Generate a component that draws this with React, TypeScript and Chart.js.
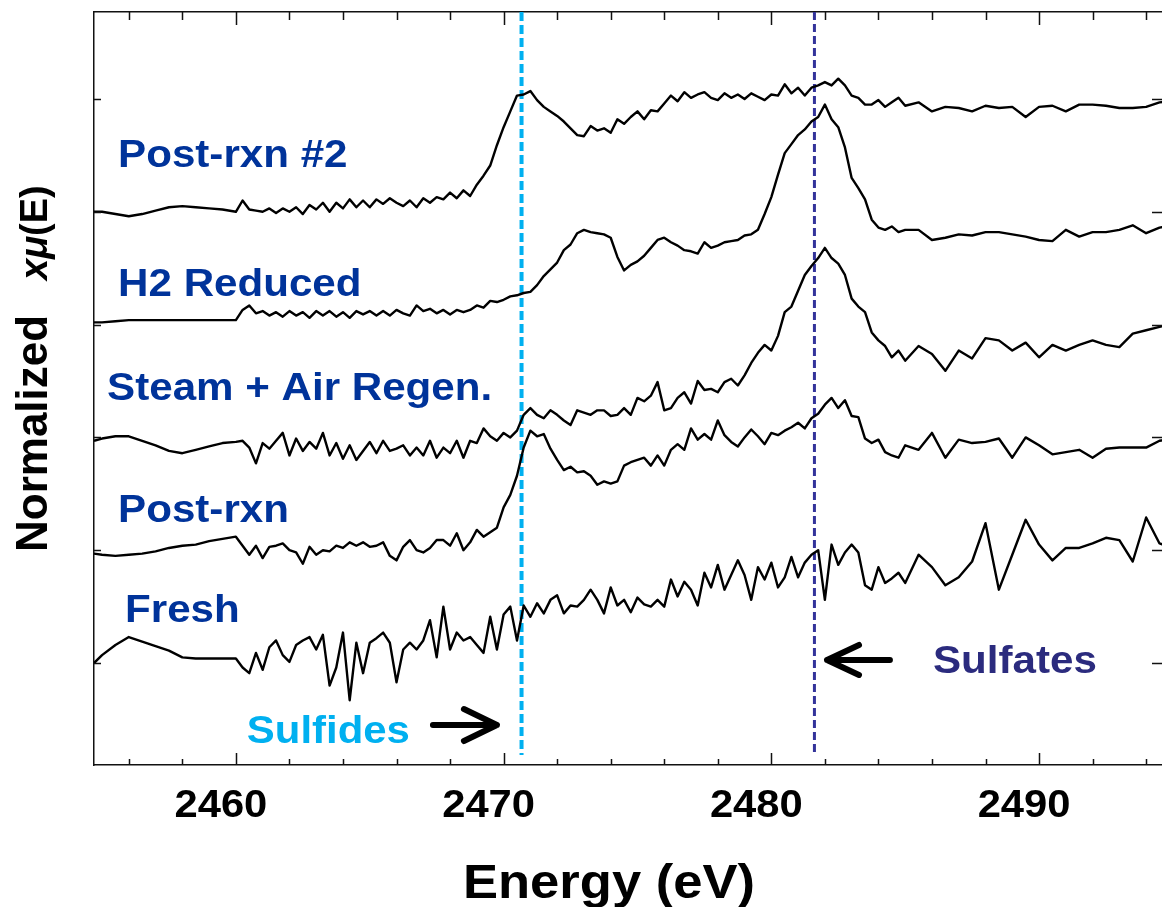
import React, { useEffect, useRef } from "react";
import { Chart, registerables } from "chart.js";

Chart.register(...registerables);

// Photon energy grid (eV)
const energy = [
  2454.7, 2455, 2455.5, 2456, 2456.5, 2457, 2457.5, 2458, 2458.5, 2459, 2459.5, 2460,
  2460.25, 2460.5, 2460.75, 2461, 2461.25, 2461.5, 2461.75, 2462, 2462.25, 2462.5,
  2462.75, 2463, 2463.25, 2463.5, 2463.75, 2464, 2464.25, 2464.5, 2464.75, 2465,
  2465.25, 2465.5, 2465.75, 2466, 2466.25, 2466.5, 2466.75, 2467, 2467.25, 2467.5,
  2467.75, 2468, 2468.25, 2468.5, 2468.75, 2469, 2469.25, 2469.5, 2469.75, 2470,
  2470.25, 2470.5, 2470.75, 2471, 2471.25, 2471.5, 2471.75, 2472, 2472.25, 2472.5,
  2472.75, 2473, 2473.25, 2473.5, 2473.75, 2474, 2474.25, 2474.5, 2474.75, 2475,
  2475.25, 2475.5, 2475.75, 2476, 2476.25, 2476.5, 2476.75, 2477, 2477.25, 2477.5,
  2477.75, 2478, 2478.25, 2478.5, 2478.75, 2479, 2479.25, 2479.5, 2479.75, 2480,
  2480.25, 2480.5, 2480.75, 2481, 2481.25, 2481.5, 2481.75, 2482, 2482.25, 2482.5,
  2482.75, 2483, 2483.25, 2483.5, 2483.75, 2484, 2484.25, 2484.5, 2484.75, 2485,
  2485.5, 2486, 2486.5, 2487, 2487.5, 2488, 2488.5, 2489, 2489.5, 2490,
  2490.5, 2491, 2491.5, 2492, 2492.5, 2493, 2493.5, 2494, 2494.5, 2495,
];

// Normalized xmu(E), before vertical stacking offset
const fresh = [
  0, 0.07, 0.16, 0.23, 0.19, 0.15, 0.11, 0.05, 0.04, 0.04, 0.04, 0.04,
  -0.04, -0.09, 0.09, -0.06, 0.14, 0.2, 0.07, 0.01, 0.16, 0.2,
  0.23, 0.12, 0.25, -0.2, -0.04, 0.27, -0.33, 0.18, -0.09, 0.18,
  0.22, 0.27, 0.18, -0.17, 0.12, 0.18, 0.12, 0.2, 0.38, 0.05,
  0.5, 0.12, 0.27, 0.2, 0.23, 0.16, 0.09, 0.41, 0.12, 0.43,
  0.5, 0.2, 0.51, 0.41, 0.53, 0.44, 0.56, 0.6, 0.44, 0.51,
  0.5, 0.56, 0.65, 0.56, 0.44, 0.67, 0.51, 0.56, 0.45, 0.58,
  0.52, 0.5, 0.56, 0.5, 0.74, 0.59, 0.72, 0.65, 0.51, 0.8,
  0.67, 0.87, 0.65, 0.78, 0.91, 0.78, 0.56, 0.85, 0.74, 0.89,
  0.67, 0.76, 0.94, 0.76, 0.89, 0.96, 1.0, 0.56, 1.05, 0.87,
  0.98, 1.05, 0.98, 0.69, 0.65, 0.85, 0.71, 0.75, 0.8, 0.71,
  0.96, 0.85, 0.69, 0.76, 0.9, 1.24, 0.65, 0.96, 1.27, 1.05,
  0.91, 1.02, 1.02, 1.06, 1.11, 1.09, 0.9, 1.29, 1.06, 1.02,
];

const postRxn = [
  -0.03, -0.04, -0.05, -0.04, -0.03, -0.01, 0.02, 0.04, 0.05, 0.08, 0.1, 0.12,
  0.04, -0.04, 0.04, -0.07, 0.03, 0.04, 0.06, 0, -0.02, -0.12,
  0.03, -0.04, 0, -0.01, 0.04, 0.02, 0.07, 0.04, 0.07, 0.03,
  0.04, 0.07, -0.05, -0.09, 0.03, 0.09, 0, -0.02, 0.02, 0.09,
  0.09, 0.04, 0.15, 0, 0.07, 0.18, 0.12, 0.16, 0.2, 0.38,
  0.49, 0.66, 0.91, 1.06, 1.01, 1.03, 0.9, 0.8, 0.71, 0.74,
  0.69, 0.7, 0.66, 0.58, 0.61, 0.59, 0.61, 0.75, 0.78, 0.8,
  0.82, 0.75, 0.84, 0.75, 0.89, 0.94, 0.89, 1.08, 0.98, 1.03,
  0.98, 1.15, 1.02, 0.96, 0.92, 1.0, 1.07, 1.01, 0.94, 1.04,
  1.02, 1.06, 1.09, 1.13, 1.08, 1.17, 1.21, 1.29, 1.35, 1.26,
  1.33, 1.19, 1.18, 0.99, 0.95, 0.98, 0.87, 0.84, 0.82, 0.93,
  0.89, 1.04, 0.82, 0.98, 0.95, 0.96, 0.99, 0.82, 1.0, 0.93,
  0.85, 0.87, 0.89, 0.82, 0.9, 0.91, 0.91, 0.91, 0.97, 0.99,
];

const steamAirRegen = [
  -0.03, -0.01, 0.01, 0.01, -0.03, -0.07, -0.12, -0.14, -0.11, -0.08, -0.05, -0.04,
  -0.03, -0.09, -0.23, -0.05, -0.1, -0.03, 0.04, -0.16, -0.01, -0.12,
  -0.04, -0.1, 0.04, -0.16, -0.05, -0.19, -0.07, -0.2, -0.12, -0.04,
  -0.14, -0.03, -0.12, -0.1, -0.07, -0.16, -0.09, -0.16, -0.03, -0.18,
  -0.09, -0.14, -0.03, -0.18, -0.03, -0.05, 0.08, 0.01, -0.03, 0.04,
  0, 0.06, 0.2, 0.26, 0.2, 0.17, 0.24, 0.2, 0.15, 0.11,
  0.24, 0.22, 0.2, 0.24, 0.24, 0.19, 0.2, 0.26, 0.2, 0.35,
  0.32, 0.37, 0.49, 0.24, 0.26, 0.35, 0.4, 0.3, 0.5, 0.42,
  0.43, 0.4, 0.49, 0.52, 0.46, 0.55, 0.66, 0.75, 0.82, 0.77,
  0.9, 1.11, 1.16, 1.3, 1.44, 1.52, 1.59, 1.68, 1.59, 1.54,
  1.44, 1.23, 1.16, 1.11, 0.93, 0.86, 0.81, 0.71, 0.77, 0.68,
  0.81, 0.74, 0.59, 0.77, 0.7, 0.88, 0.86, 0.77, 0.84, 0.71,
  0.82, 0.77, 0.82, 0.86, 0.82, 0.8, 0.92, 0.95, 0.98, 1.01,
];

const h2Reduced = [
  0.02, 0.02, 0.03, 0.04, 0.04, 0.04, 0.04, 0.04, 0.04, 0.04, 0.04, 0.04,
  0.13, 0.17, 0.1, 0.12, 0.08, 0.11, 0.07, 0.12, 0.08, 0.11,
  0.06, 0.12, 0.08, 0.12, 0.07, 0.11, 0.06, 0.12, 0.09, 0.12,
  0.08, 0.12, 0.08, 0.13, 0.1, 0.08, 0.17, 0.12, 0.14, 0.1,
  0.13, 0.09, 0.13, 0.11, 0.13, 0.17, 0.15, 0.21, 0.2, 0.22,
  0.25, 0.26, 0.28, 0.29, 0.35, 0.43, 0.49, 0.55, 0.66, 0.71,
  0.81, 0.84, 0.82, 0.81, 0.8, 0.77, 0.6, 0.48, 0.53, 0.56,
  0.61, 0.68, 0.75, 0.77, 0.73, 0.7, 0.66, 0.65, 0.63, 0.73,
  0.68, 0.7, 0.73, 0.74, 0.75, 0.79, 0.8, 0.84, 0.98, 1.13,
  1.33, 1.52, 1.6, 1.68, 1.73, 1.8, 1.84, 1.95, 1.82, 1.75,
  1.57, 1.3, 1.21, 1.11, 0.93, 0.86, 0.84, 0.87, 0.82, 0.84,
  0.84, 0.75, 0.77, 0.8, 0.79, 0.82, 0.82, 0.8, 0.78, 0.75,
  0.74, 0.84, 0.78, 0.82, 0.82, 0.84, 0.88, 0.81, 0.86, 0.88,
];

const postRxn2 = [
  0, 0, -0.02, -0.04, -0.02, 0.01, 0.04, 0.05, 0.04, 0.03, 0.02, 0,
  0.1, 0.02, 0.01, 0, 0.03, -0.01, 0.03, 0, 0.04, -0.02,
  0.06, 0.02, 0.08, 0, 0.08, 0.03, 0.11, 0.04, 0.1, 0.04,
  0.11, 0.07, 0.12, 0.08, 0.05, 0.1, 0.04, 0.12, 0.08, 0.13,
  0.11, 0.17, 0.12, 0.19, 0.14, 0.24, 0.32, 0.41, 0.59, 0.75,
  0.89, 1.03, 1.04, 1.07, 0.99, 0.93, 0.89, 0.85, 0.8, 0.74,
  0.68, 0.67, 0.76, 0.72, 0.74, 0.7, 0.82, 0.78, 0.84, 0.89,
  0.82, 0.9, 0.89, 0.96, 1.03, 0.98, 1.06, 1.01, 1.04, 1.06,
  1.01, 0.99, 1.05, 1.01, 1.04, 1.0, 1.05, 1.02, 0.99, 1.04,
  1.03, 1.13, 1.05, 1.1, 1.03, 1.1, 1.12, 1.15, 1.12, 1.18,
  1.12, 1.03, 1.01, 0.95, 0.95, 0.99, 0.93, 0.97, 1.01, 0.94,
  0.97, 0.89, 0.93, 0.92, 0.89, 0.94, 0.92, 0.93, 0.84, 0.93,
  0.94, 0.89, 0.95, 0.95, 0.94, 0.92, 0.92, 0.93, 0.97, 0.98,
];

const seriesNames = ["Fresh", "Post-rxn", "Steam + Air Regen.", "H2 Reduced", "Post-rxn #2"];
const seriesValues = [fresh, postRxn, steamAirRegen, h2Reduced, postRxn2];
const seriesOffsets = [0, 1, 2, 3, 4];

const xTickValues = [2456, 2458, 2460, 2462, 2464, 2466, 2468, 2470, 2472, 2474, 2476, 2478, 2480, 2482, 2484, 2486, 2488, 2490, 2492, 2494];
const xTickLabels = [2460, 2470, 2480, 2490];
const yTickValues = [0, 1, 2, 3, 4, 5];

const sulfideEnergy = 2470.67;
const sulfateEnergy = 2481.61;

const X_MIN = 2454.7;
const X_MAX = 2494.63;
const Y_MIN = -0.904;
const Y_MAX = 5.771;

// Annotation anchors in data coordinates (energy, stacked value)
const seriesLabelAnchors = [
  [2455.86, 0.363],
  [2455.6, 1.25],
  [2455.19, 2.332],
  [2455.6, 3.254],
  [2455.6, 4.397],
];

const FONT = '"Liberation Sans", Arial, sans-serif';

function drawText(ctx: CanvasRenderingContext2D, text: string, x: number, y: number, size: number, color: string, sx: number, align: "left" | "center", style = "bold") {
  ctx.save();
  ctx.font = `${style} ${size}px ${FONT}`;
  ctx.fillStyle = color;
  ctx.textBaseline = "alphabetic";
  ctx.textAlign = "left";
  ctx.translate(x, y);
  ctx.scale(sx, 1);
  const w = ctx.measureText(text).width;
  ctx.fillText(text, align === "center" ? -w / 2 : 0, 0);
  ctx.restore();
}

function drawArrow(ctx: CanvasRenderingContext2D, x0: number, x1: number, y: number, head: number, half: number) {
  const dir = Math.sign(x1 - x0);
  ctx.save();
  ctx.strokeStyle = "#000";
  ctx.lineWidth = 6;
  ctx.lineCap = "round";
  ctx.lineJoin = "round";
  ctx.beginPath();
  ctx.moveTo(x0, y);
  ctx.lineTo(x1, y);
  ctx.moveTo(x1 - dir * head, y - half);
  ctx.lineTo(x1, y);
  ctx.lineTo(x1 - dir * head, y + half);
  ctx.stroke();
  ctx.restore();
}

const decorPlugin = {
  id: "decor",
  afterDraw(chart: any) {
    const ctx: CanvasRenderingContext2D = chart.ctx;
    const { left, right, top, bottom } = chart.chartArea;
    const xs = chart.scales.x;
    const ys = chart.scales.y;

    // inward tick marks
    ctx.save();
    ctx.strokeStyle = "#111";
    ctx.lineWidth = 1.5;
    ctx.beginPath();
    for (const v of xTickValues) {
      const px = Math.round(xs.getPixelForValue(v)) + 0.5;
      const major = v % 10 === 0;
      ctx.moveTo(px, bottom);
      ctx.lineTo(px, bottom - (major ? 12 : 6));
      ctx.moveTo(px, top);
      ctx.lineTo(px, top + (major ? 13 : 8));
    }
    for (const v of yTickValues) {
      const py = Math.round(ys.getPixelForValue(v)) + 0.5;
      ctx.moveTo(left, py);
      ctx.lineTo(left + 7, py);
      ctx.moveTo(right, py);
      ctx.lineTo(right - 11, py);
    }
    ctx.stroke();
    ctx.restore();

    // tick labels
    for (const v of xTickLabels) {
      drawText(ctx, String(v), xs.getPixelForValue(v) - 15, bottom + 52, 39, "#000", 1.07, "center");
    }

    // axis titles
    drawText(ctx, "Energy (eV)", 609, 898, 48, "#000", 1.095, "center");
    ctx.save();
    ctx.translate(47, 552);
    ctx.rotate(-Math.PI / 2);
    ctx.fillStyle = "#000";
    ctx.textBaseline = "alphabetic";
    ctx.font = `bold 44px ${FONT}`;
    ctx.fillText("Normalized", 0, 0);
    ctx.font = `italic bold 38px ${FONT}`;
    ctx.fillText("x\u03BC", 272, 0);
    const wx = ctx.measureText("x\u03BC").width;
    ctx.font = `bold 38px ${FONT}`;
    ctx.fillText("(E)", 272 + wx, 0);
    ctx.restore();

    // series labels
    seriesNames.forEach((name, k) => {
      const [e, v] = seriesLabelAnchors[k];
      drawText(ctx, name, xs.getPixelForValue(e), ys.getPixelForValue(v), 39, "#00339a", 1.08, "left");
    });

    // edge annotations
    drawText(ctx, "Sulfides", xs.getPixelForValue(2460.41), ys.getPixelForValue(-0.709), 39, "#00b0f0", 1.075, "left");
    drawText(ctx, "Sulfates", xs.getPixelForValue(2486.04), ys.getPixelForValue(-0.089), 39, "#2b2b7e", 1.08, "left");
    drawArrow(ctx, xs.getPixelForValue(2467.36), xs.getPixelForValue(2469.75), ys.getPixelForValue(-0.55), 33, 16);
    drawArrow(ctx, xs.getPixelForValue(2484.43), xs.getPixelForValue(2482.08), ys.getPixelForValue(0.027), 32, 15);
  },
};

export default function App() {
  const ref = useRef<HTMLCanvasElement | null>(null);

  useEffect(() => {
    if (!ref.current) return;
    const traces = seriesValues.map((vals, k) => ({
      label: seriesNames[k],
      data: energy.map((e, i) => ({ x: e, y: vals[i] + seriesOffsets[k] })),
      borderColor: "#000",
      borderWidth: 2.4,
      borderJoinStyle: "round",
      pointRadius: 0,
      fill: false,
      tension: 0,
    }));
    const edgeLines = [
      {
        label: "Sulfides edge",
        data: [{ x: sulfideEnergy, y: Y_MAX }, { x: sulfideEnergy, y: -0.816 }],
        borderColor: "#00b0f0",
        borderWidth: 4,
        borderDash: [9, 4],
        pointRadius: 0,
        fill: false,
      },
      {
        label: "Sulfates edge",
        data: [{ x: sulfateEnergy, y: Y_MAX }, { x: sulfateEnergy, y: -0.816 }],
        borderColor: "#33339a",
        borderWidth: 3,
        borderDash: [8, 4],
        pointRadius: 0,
        fill: false,
      },
    ];
    const hidden = { display: false, drawTicks: false };
    const border = { display: true, color: "#111", width: 1.5 };
    const chart = new Chart(ref.current, {
      type: "line",
      data: { datasets: [...traces, ...edgeLines] as any },
      options: {
        responsive: false,
        animation: false,
        devicePixelRatio: 1,
        layout: { padding: 0 },
        plugins: { legend: { display: false }, tooltip: { enabled: false } },
        scales: {
          x: {
            type: "linear", position: "bottom", min: X_MIN, max: X_MAX,
            ticks: { display: false }, grid: hidden, border,
            afterFit: (s: any) => { s.height = 142; },
          },
          xTop: {
            type: "linear", position: "top", min: X_MIN, max: X_MAX,
            ticks: { display: false }, grid: hidden, border,
            afterFit: (s: any) => { s.height = 12; },
          },
          y: {
            type: "linear", position: "left", min: Y_MIN, max: Y_MAX,
            ticks: { display: false }, grid: hidden, border,
            afterFit: (s: any) => { s.width = 94; },
          },
          yRight: {
            type: "linear", position: "right", min: Y_MIN, max: Y_MAX,
            ticks: { display: false }, grid: hidden, border,
            afterFit: (s: any) => { s.width = 37; },
          },
        },
      } as any,
      plugins: [decorPlugin],
    });
    return () => chart.destroy();
  }, []);

  return (
    <div style={{ position: "fixed", left: 0, top: 0, width: 1162, height: 907, overflow: "hidden", background: "#fff" }}>
      <canvas ref={ref} width={1200} height={907} style={{ display: "block", width: 1200, height: 907 }} />
    </div>
  );
}
